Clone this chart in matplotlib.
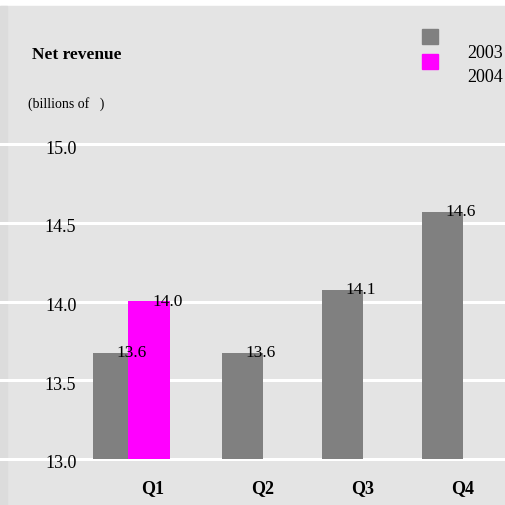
import numpy as np
import matplotlib
matplotlib.use("Agg")
import matplotlib.pyplot as plt
import matplotlib.transforms as mtransforms
from matplotlib.patches import Rectangle

# data
quarters = ["Q1", "Q2", "Q3", "Q4"]
rev_2003 = [13.67, 13.67, 14.07, 14.57]
lab_2003 = ["13.6", "13.6", "14.1", "14.6"]
rev_2004 = [14.0]          # only Q1 reported
lab_2004 = ["14.0"]
yticks = [13.0, 13.5, 14.0, 14.5, 15.0]

plt.rcParams["font.family"] = ["Liberation Serif", "DejaVu Serif"]

W = H = 505
fig = plt.figure(figsize=(W / 100, H / 100), dpi=100)
fig.patch.set_facecolor("white")

# panel background + darker left stripe
fig.patches.append(Rectangle((0, 0), 1, 1 - 6 / H, transform=fig.transFigure,
                             color="#e4e4e4", zorder=-10))
fig.patches.append(Rectangle((0, 0), 7 / W, 1 - 6 / H, transform=fig.transFigure,
                             color="#dcdcdc", zorder=-9))

ax = fig.add_axes([0, 0, 1, 1])
ax.set_facecolor("none")
for s in ax.spines.values():
    s.set_visible(False)

# scales: 100 px per category, 157.5 px per unit of revenue
ax.set_xlim(-1.425, -1.425 + W / 100)
ax.set_ylim(13 - 46 / 157.5, 15 + 144 / 157.5)

x = np.arange(len(quarters), dtype=float)
bw = 0.41
gray_x = x.copy()
gray_x[0] -= 0.29          # Q1 gray sits left of the 2004 bar
mag_x = x[:1] + 0.065

for y in yticks:
    ax.axhline(y, color="white", lw=2.2, zorder=1)

ax.bar(gray_x, np.array(rev_2003) - 13, bottom=13, width=bw,
       color="#808080", zorder=2)
ax.bar(mag_x, np.array(rev_2004) - 13, bottom=13, width=0.42,
       color="#ff00ff", zorder=3)

for xi, v, t in zip(gray_x, rev_2003, lab_2003):
    ax.text(xi + 0.03, v, t, ha="left", va="center", fontsize=12.5, zorder=4)
for xi, v, t in zip(mag_x, rev_2004, lab_2004):
    ax.text(xi + 0.03, v, t, ha="left", va="center", fontsize=12.5, zorder=4)

ax.set_yticks(yticks)
ax.set_yticklabels(["%.1f" % v for v in yticks])
ax.tick_params(axis="y", length=0, pad=-57, labelsize=13)
# labels sit a little below their gridline
shift = mtransforms.ScaledTranslation(-2 / 72, -3 / 100 , fig.dpi_scale_trans)
for lab in ax.get_yticklabels():
    lab.set_transform(lab.get_transform() + shift)

xt = x + 0.2
xt[0] = 0.1
ax.set_xticks(xt)
ax.set_xticklabels(quarters, fontweight="bold")
ax.tick_params(axis="x", length=0, pad=-18, labelsize=13)

# titles
fig.text(32 / W, 1 - 55 / H, "Net revenue", fontsize=12.5, fontweight="bold",
         ha="left", va="center")
fig.text(28 / W, 1 - 104 / H, "(billions of   )", fontsize=10,
         ha="left", va="center")

# legend
fig.patches.append(Rectangle((422 / W, 1 - 44 / H), 16 / W, 15 / H,
                             transform=fig.transFigure, color="#808080"))
fig.patches.append(Rectangle((422 / W, 1 - 69 / H), 16 / W, 15 / H,
                             transform=fig.transFigure, color="#ff00ff"))
fig.text(467 / W, 1 - 53 / H, "2003", fontsize=13, ha="left", va="center")
fig.text(467 / W, 1 - 78 / H, "2004", fontsize=13, ha="left", va="center")

fig.savefig("out.png", dpi=100)
